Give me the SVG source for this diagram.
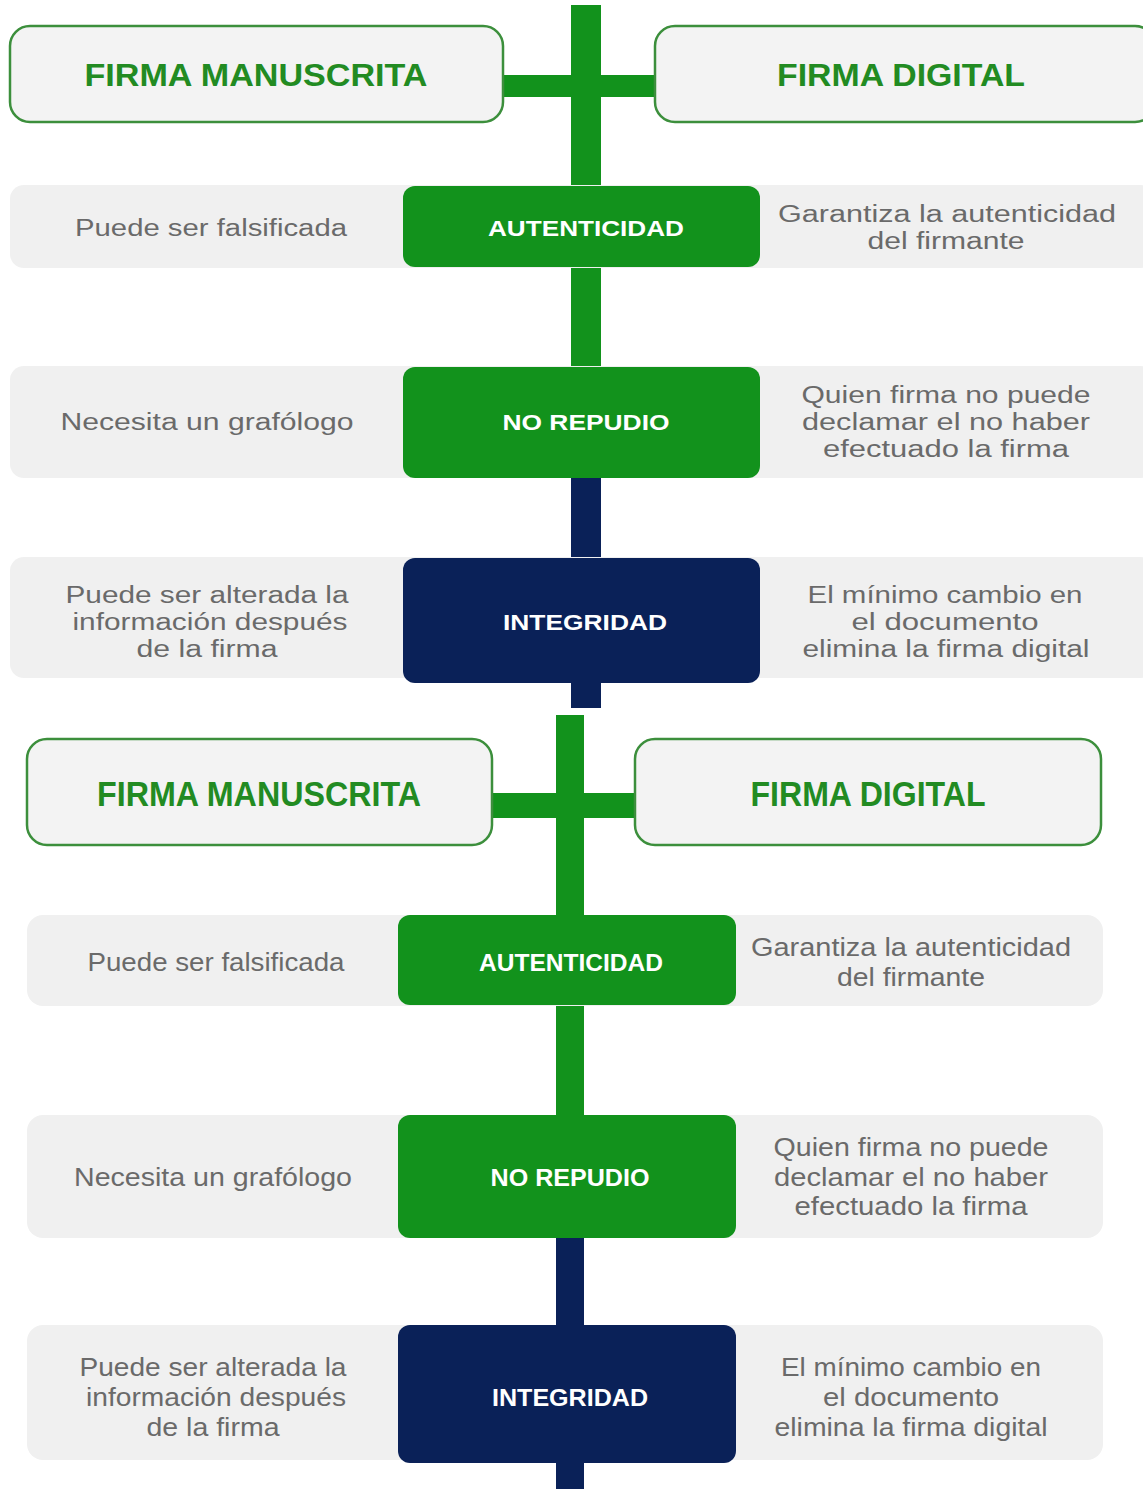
<svg xmlns="http://www.w3.org/2000/svg" width="1143" height="1489" viewBox="0 0 1143 1489">
<style>
.hdr{fill:#f3f3f3;stroke:#3c8f3c;stroke-width:2.5}
.band{fill:#f0f0f0}
.g{fill:#12921c}
.n{fill:#0a2158}
.ht{font-family:"Liberation Sans",Arial,sans-serif;font-weight:bold;fill:#228b22;text-anchor:middle}
.bt{font-family:"Liberation Sans",Arial,sans-serif;font-weight:bold;fill:#ffffff;text-anchor:middle}
.tx{font-family:"Liberation Sans",Arial,sans-serif;fill:#6a6a6a;text-anchor:middle}
.s1{font-size:23px}
.s2{font-size:25px}
.h1{font-size:31px}
.h2{font-size:35px}
.b1{font-size:22px}
.b2{font-size:24px}
</style>
<rect width="1143" height="1489" fill="#ffffff"/>
<g id="connectors">
  <rect class="g" x="571" y="5" width="30" height="475"/>
  <rect class="n" x="571" y="478" width="30" height="230"/>
  <rect class="g" x="500" y="75" width="158" height="22"/>
  <rect class="g" x="556" y="715" width="28" height="525"/>
  <rect class="n" x="556" y="1238" width="28" height="251"/>
  <rect class="g" x="490" y="793" width="148" height="25"/>
</g>
<!-- top diagram -->
<g id="hdr-manuscrita-1">
  <rect class="hdr" x="10" y="26" width="493" height="96" rx="20"/>
  <text class="ht h1" x="256" y="86" textLength="343" lengthAdjust="spacingAndGlyphs">FIRMA MANUSCRITA</text>
</g>
<g id="hdr-digital-1">
  <rect class="hdr" x="655" y="26" width="500" height="96" rx="20"/>
  <text class="ht h1" x="901" y="86" textLength="248" lengthAdjust="spacingAndGlyphs">FIRMA DIGITAL</text>
</g>
<g id="row-autenticidad-1">
  <rect class="band" x="10" y="185" width="1145" height="83" rx="14"/>
  <rect class="g" x="403" y="186" width="357" height="81" rx="12"/>
  <text class="bt b1" x="586" y="236" textLength="196" lengthAdjust="spacingAndGlyphs">AUTENTICIDAD</text>
  <text class="tx s1" x="211" y="236" textLength="272" lengthAdjust="spacingAndGlyphs">Puede ser falsificada</text>
  <text class="tx s1" x="947" y="222" textLength="338" lengthAdjust="spacingAndGlyphs">Garantiza la autenticidad</text>
  <text class="tx s1" x="946" y="249" textLength="157" lengthAdjust="spacingAndGlyphs">del firmante</text>
</g>
<g id="row-norepudio-1">
  <rect class="band" x="10" y="366" width="1145" height="112" rx="14"/>
  <rect class="g" x="403" y="367" width="357" height="111" rx="12"/>
  <text class="bt b1" x="586" y="430" textLength="167" lengthAdjust="spacingAndGlyphs">NO REPUDIO</text>
  <text class="tx s1" x="207" y="430" textLength="293" lengthAdjust="spacingAndGlyphs">Necesita un grafólogo</text>
  <text class="tx s1" x="946" y="403" textLength="289" lengthAdjust="spacingAndGlyphs">Quien firma no puede</text>
  <text class="tx s1" x="946" y="430" textLength="288" lengthAdjust="spacingAndGlyphs">declamar el no haber</text>
  <text class="tx s1" x="946" y="457" textLength="246" lengthAdjust="spacingAndGlyphs">efectuado la firma</text>
</g>
<g id="row-integridad-1">
  <rect class="band" x="10" y="557" width="1145" height="121" rx="14"/>
  <rect class="n" x="403" y="558" width="357" height="125" rx="12"/>
  <text class="bt b1" x="585" y="630" textLength="164" lengthAdjust="spacingAndGlyphs">INTEGRIDAD</text>
  <text class="tx s1" x="207" y="603" textLength="283" lengthAdjust="spacingAndGlyphs">Puede ser alterada la</text>
  <text class="tx s1" x="210" y="630" textLength="275" lengthAdjust="spacingAndGlyphs">información después</text>
  <text class="tx s1" x="207" y="657" textLength="141" lengthAdjust="spacingAndGlyphs">de la firma</text>
  <text class="tx s1" x="945" y="603" textLength="275" lengthAdjust="spacingAndGlyphs">El mínimo cambio en</text>
  <text class="tx s1" x="945" y="630" textLength="187" lengthAdjust="spacingAndGlyphs">el documento</text>
  <text class="tx s1" x="946" y="657" textLength="287" lengthAdjust="spacingAndGlyphs">elimina la firma digital</text>
</g>
<!-- bottom diagram -->
<g id="hdr-manuscrita-2">
  <rect class="hdr" x="27" y="739" width="465" height="106" rx="20"/>
  <text class="ht h2" x="259" y="806" textLength="324" lengthAdjust="spacingAndGlyphs">FIRMA MANUSCRITA</text>
</g>
<g id="hdr-digital-2">
  <rect class="hdr" x="635" y="739" width="466" height="106" rx="20"/>
  <text class="ht h2" x="868" y="806" textLength="235" lengthAdjust="spacingAndGlyphs">FIRMA DIGITAL</text>
</g>
<g id="row-autenticidad-2">
  <rect class="band" x="27" y="915" width="1076" height="91" rx="16"/>
  <rect class="g" x="398" y="915" width="338" height="90" rx="12"/>
  <text class="bt b2" x="571" y="971" textLength="184" lengthAdjust="spacingAndGlyphs">AUTENTICIDAD</text>
  <text class="tx s2" x="216" y="971" textLength="257" lengthAdjust="spacingAndGlyphs">Puede ser falsificada</text>
  <text class="tx s2" x="911" y="956" textLength="320" lengthAdjust="spacingAndGlyphs">Garantiza la autenticidad</text>
  <text class="tx s2" x="911" y="986" textLength="148" lengthAdjust="spacingAndGlyphs">del firmante</text>
</g>
<g id="row-norepudio-2">
  <rect class="band" x="27" y="1115" width="1076" height="123" rx="16"/>
  <rect class="g" x="398" y="1115" width="338" height="123" rx="12"/>
  <text class="bt b2" x="570" y="1186" textLength="159" lengthAdjust="spacingAndGlyphs">NO REPUDIO</text>
  <text class="tx s2" x="213" y="1186" textLength="278" lengthAdjust="spacingAndGlyphs">Necesita un grafólogo</text>
  <text class="tx s2" x="911" y="1156" textLength="275" lengthAdjust="spacingAndGlyphs">Quien firma no puede</text>
  <text class="tx s2" x="911" y="1186" textLength="274" lengthAdjust="spacingAndGlyphs">declamar el no haber</text>
  <text class="tx s2" x="911" y="1215" textLength="233" lengthAdjust="spacingAndGlyphs">efectuado la firma</text>
</g>
<g id="row-integridad-2">
  <rect class="band" x="27" y="1325" width="1076" height="135" rx="16"/>
  <rect class="n" x="398" y="1325" width="338" height="138" rx="12"/>
  <text class="bt b2" x="570" y="1406" textLength="156" lengthAdjust="spacingAndGlyphs">INTEGRIDAD</text>
  <text class="tx s2" x="213" y="1376" textLength="267" lengthAdjust="spacingAndGlyphs">Puede ser alterada la</text>
  <text class="tx s2" x="216" y="1406" textLength="260" lengthAdjust="spacingAndGlyphs">información después</text>
  <text class="tx s2" x="213" y="1436" textLength="133" lengthAdjust="spacingAndGlyphs">de la firma</text>
  <text class="tx s2" x="911" y="1376" textLength="260" lengthAdjust="spacingAndGlyphs">El mínimo cambio en</text>
  <text class="tx s2" x="911" y="1406" textLength="176" lengthAdjust="spacingAndGlyphs">el documento</text>
  <text class="tx s2" x="911" y="1436" textLength="273" lengthAdjust="spacingAndGlyphs">elimina la firma digital</text>
</g>
</svg>
